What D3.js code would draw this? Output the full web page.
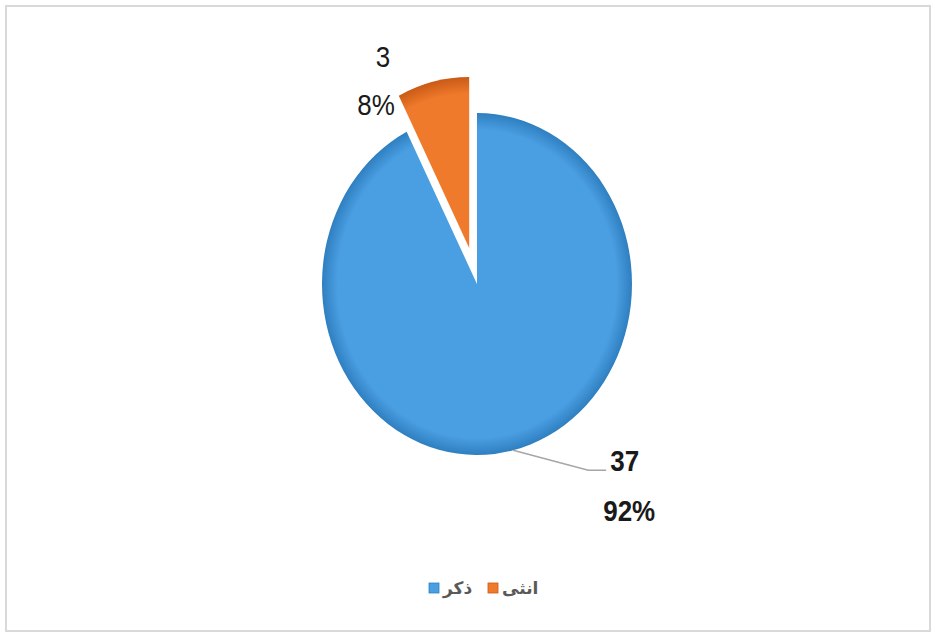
<!DOCTYPE html>
<html>
<head>
<meta charset="utf-8">
<script src="https://cdn.jsdelivr.net/npm/d3@7"></script>
<style>
  body { margin: 0; background: #fff; }
  text { font-family: "Liberation Sans", Arial, sans-serif; }
</style>
</head>
<body>
<div id="chart"></div>
<script>
// data
var categories = ["ذكر", "انثى"];
var counts = [37, 3];
var percents = ["92%", "8%"];
var colors = ["#4a9fe2", "#f07a2c"];
var darkColors = ["#2f7fc0", "#c95a16"];

var width = 934, height = 636;
var cx = 477, cy = 284, R = 171, sx = 155 / 171;

var svg = d3.select("#chart").append("svg")
    .attr("width", width)
    .attr("height", height);

// chart frame
svg.append("rect")
    .attr("x", 6).attr("y", 6)
    .attr("width", 924).attr("height", 625)
    .attr("fill", "#fff")
    .attr("stroke", "#d9d9d9")
    .attr("stroke-width", 2);

var defs = svg.append("defs");
colors.forEach(function(c, i) {
  var g = defs.append("radialGradient")
      .attr("id", "grad" + i)
      .attr("gradientUnits", "userSpaceOnUse")
      .attr("cx", 0).attr("cy", 0).attr("r", R);
  g.append("stop").attr("offset", "0%").attr("stop-color", c);
  g.append("stop").attr("offset", "90%").attr("stop-color", c);
  g.append("stop").attr("offset", "100%").attr("stop-color", darkColors[i]);
});

var pie = d3.pie().sort(null).value(function(d) { return d; });
var arcs = pie(counts);

var arc = d3.arc().innerRadius(0).outerRadius(R);
var explode = [0, 37];

var g = svg.append("g")
    .attr("transform", "translate(" + cx + "," + cy + ") scale(" + sx + ",1)");

g.selectAll("path.slice")
  .data(arcs)
  .enter()
  .append("path")
    .attr("class", "slice")
    .attr("d", arc)
    .attr("fill", function(d, i) { return "url(#grad" + i + ")"; })
    .attr("transform", function(d, i) {
      var a = (d.startAngle + d.endAngle) / 2;
      return "translate(" + (Math.sin(a) * explode[i]) + "," + (-Math.cos(a) * explode[i]) + ")";
    });

// point on the (stretched) pie edge
function edge(d, r, off) {
  var a = (d.startAngle + d.endAngle) / 2;
  return [cx + Math.sin(a) * (r + off) * sx, cy - Math.cos(a) * (r + off)];
}

// text slightly stretched vertically like the picture
function label(x, y, txt, bold, anchor) {
  svg.append("text")
      .attr("transform", "translate(" + x + "," + y + ") scale(1,1.12)")
      .attr("text-anchor", anchor || "start")
      .style("font-size", "26px")
      .style("font-weight", bold ? "bold" : "normal")
      .attr("fill", "#1a1a1a")
      .text(txt);
}

// male label with leader line
var p0 = edge(arcs[0], R, 0);
svg.append("polyline")
    .attr("points", [p0, [p0[0] + 75, p0[1] + 20], [p0[0] + 93, p0[1] + 20]].map(function(p) { return p.join(","); }).join(" "))
    .attr("fill", "none")
    .attr("stroke", "#a6a6a6")
    .attr("stroke-width", 1.5);

label(p0[0] + 97, p0[1] + 21, counts[0], true);
label(p0[0] + 90, p0[1] + 71, percents[0], true);

// female label
var p1 = edge(arcs[1], R, explode[1]);
label(p1[0] - 50, p1[1] - 15, counts[1], false, "middle");
label(p1[0] - 57, p1[1] + 33, percents[1], false, "middle");

// legend
var legend = svg.append("g").attr("transform", "translate(429,588)");
var legendX = [0, 59];
categories.forEach(function(c, i) {
  var item = legend.append("g").attr("transform", "translate(" + legendX[i] + ",0)");
  item.append("rect")
      .attr("x", 0).attr("y", -5)
      .attr("width", 10).attr("height", 10)
      .attr("fill", colors[i])
      .attr("stroke", darkColors[i])
      .attr("stroke-width", 0.8);
  item.append("text")
      .attr("x", 14).attr("y", 6)
      .attr("direction", "rtl")
      .attr("text-anchor", "end")
      .style("font-size", "17px")
      .style("font-family", "'DejaVu Sans', sans-serif")
      .style("font-weight", "bold")
      .attr("fill", "#595959")
      .text(c);
});
</script>
</body>
</html>
